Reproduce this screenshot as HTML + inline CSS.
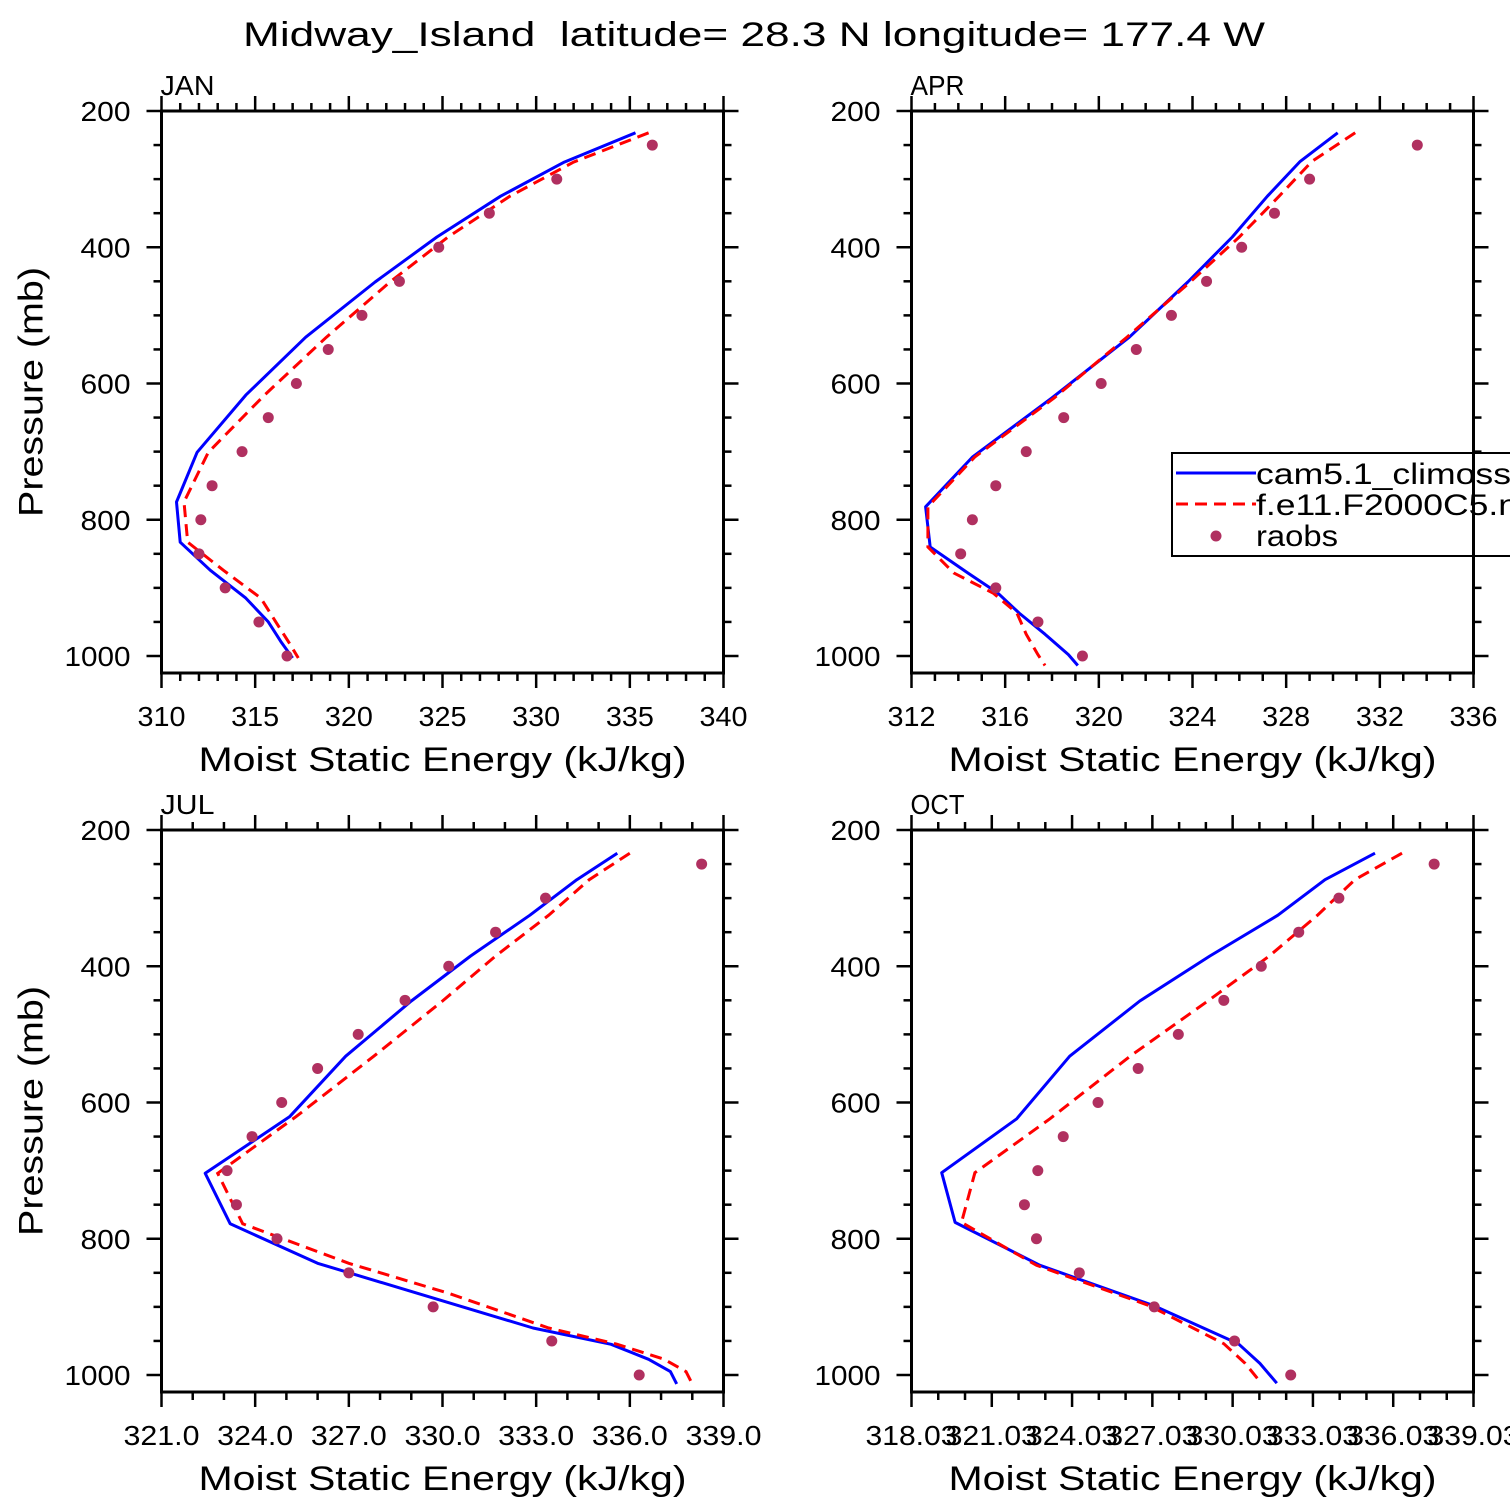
<!DOCTYPE html>
<html><head><meta charset="utf-8">
<style>
html,body{margin:0;padding:0;background:#fff;}
svg{display:block;font-family:"Liberation Sans",sans-serif;}
</style></head>
<body>
<svg id="chart" width="1510" height="1510" viewBox="0 0 1510 1510" xmlns="http://www.w3.org/2000/svg">
<rect width="1510" height="1510" fill="#fff"/>
<text x="243" y="46" font-size="34" textLength="1022" lengthAdjust="spacingAndGlyphs" fill="#000" xml:space="preserve">Midway_Island  latitude= 28.3 N longitude= 177.4 W</text>
</svg>
<script>
// ---- data ----
const obsLevels = [250,300,350,400,450,500,550,600,650,700,750,800,850,900,950,1000];

const janLevels = [232,275,325,385,451,532,617,701,774,833,874,915,950,980,1003];
const janCam = [335.3,331.5,328.1,324.7,321.4,317.7,314.5,311.9,310.8,311.0,312.6,314.5,315.7,316.4,317.0];
const janF11 = [336.0,332.0,328.6,325.3,322.2,318.8,315.5,312.5,311.2,311.4,313.3,315.3,316.1,316.8,317.3];
const janObs = [336.2,331.1,327.5,324.8,322.7,320.7,318.9,317.2,315.7,314.3,312.7,312.1,312.0,313.4,315.2,316.7];

const aprLevels = [232,274,325,385,451,532,621,708,781,840,878,908,937,968,998,1014];
const aprCam = [330.2,328.6,327.2,325.7,323.8,321.3,318.0,314.6,312.6,312.8,314.4,315.7,316.6,317.7,318.7,319.1];
const aprF11 = [330.95,329.1,327.7,326.0,323.9,321.2,318.1,314.7,312.7,312.7,313.8,315.5,316.5,316.9,317.4,317.7];
const aprObs = [333.6,329.0,327.5,326.1,324.6,323.1,321.6,320.1,318.5,316.9,315.6,314.6,314.1,315.6,317.4,319.3];

const julLevels = [234,273,325,385,451,532,621,704,778,836,880,931,955,977,995,1013];
const julCam = [335.6,334.3,332.8,330.9,329.0,326.9,325.1,322.4,323.2,326.0,329.2,332.9,335.4,336.6,337.3,337.5];
const julF11 = [336.0,334.7,333.4,331.7,330.0,327.8,325.3,322.8,323.6,327.0,330.2,333.4,335.6,337.1,337.8,338.0];
const julObs = [338.3,333.3,331.7,330.2,328.8,327.3,326.0,324.85,323.9,323.1,323.4,324.7,327.0,329.7,333.5,336.3];

const octLevels = [234,273,325,385,451,532,624,703,776,839,898,954,983,1012];
const octCam = [335.35,333.48,331.72,329.18,326.56,323.94,321.96,319.16,319.66,322.83,327.07,330.24,331.05,331.68];
const octF11 = [336.36,334.6,333.2,331.4,329.1,326.2,323.2,320.4,319.9,322.7,326.9,329.7,330.5,331.1];
const octObs = [337.56,334.0,332.5,331.1,329.7,328.0,326.5,325.0,323.7,322.75,322.25,322.7,324.3,327.1,330.1,332.2];

const pTicks = [200,400,600,800,1000];
const janXTicks = ["310","315","320","325","330","335","340"];
const aprXTicks = ["312","316","320","324","328","332","336"];
const julXTicks = ["321.0","324.0","327.0","330.0","333.0","336.0","339.0"];
const octXTicks = ["318.03","321.03","324.03","327.03","330.03","333.03","336.03","339.03"];
const legendLabels = ["cam5.1_climoss","f.e11.F2000C5.n","raobs"];

// ---- drawing ----
const NS = "http://www.w3.org/2000/svg";
const svg = document.getElementById("chart");
function mk(tag, attrs, parent){
  const e = document.createElementNS(NS, tag);
  for (const k in attrs) e.setAttribute(k, attrs[k]);
  (parent||svg).appendChild(e);
  return e;
}
function numLen(s){ let w = 0; for (const c of s) w += (c === ".") ? 12 : 16; return w; }

const panels = [
  {name:"jan", label:"JAN", x0:161.5, y0:111, xmin:310, xmax:340, major:5, minor:1, ticks:janXTicks, lev:janLevels, cam:janCam, f11:janF11, obs:janObs, ytitle:true},
  {name:"apr", label:"APR", x0:911.5, y0:111, xmin:312, xmax:336, major:4, minor:1, ticks:aprXTicks, lev:aprLevels, cam:aprCam, f11:aprF11, obs:aprObs, ytitle:false},
  {name:"jul", label:"JUL", x0:161.5, y0:830, xmin:321, xmax:339, major:3, minor:1, ticks:julXTicks, lev:julLevels, cam:julCam, f11:julF11, obs:julObs, ytitle:true},
  {name:"oct", label:"OCT", x0:911.5, y0:830, xmin:318.03, xmax:339.03, major:3, minor:1, ticks:octXTicks, lev:octLevels, cam:octCam, f11:octF11, obs:octObs, ytitle:false}
];
const W = 562, H = 562, PPM = 0.68125;

panels.forEach(function(pn){
  const g = mk("g", {});
  
  
  const sx = v => pn.x0 + (v - pn.xmin) / (pn.xmax - pn.xmin) * W;
  const sy = p => pn.y0 + (p - 200) * PPM;
  const L = pn.x0, R = pn.x0 + W, T = pn.y0, B = pn.y0 + H;

  const cid = "clip-" + pn.name;
  const cp = mk("clipPath", {id:cid}, g);
  mk("rect", {x:L, y:T, width:W, height:H}, cp);

  const lab = mk("text", {x:L-1, y:T-16, "font-size":28, textLength:54, lengthAdjust:"spacingAndGlyphs", fill:"#000"}, g);
  lab.textContent = pn.label;
  
  

  const tk = mk("g", {stroke:"#000", "stroke-width":2.5}, g);
  
  
  const nMinor = Math.round((pn.xmax - pn.xmin) / pn.minor);
  const per = Math.round(pn.major / pn.minor);
  for (let i = 0; i <= nMinor; i++){
    const x = sx(pn.xmin + i * pn.minor);
    const len = (i % per === 0) ? 15 : 8;
    mk("line", {x1:x, x2:x, y1:T, y2:T-len}, tk);
    mk("line", {x1:x, x2:x, y1:B, y2:B+len}, tk);
  }
  for (let p = 200; p <= 1025; p += 50){
    const y = sy(p);
    const len = (p % 200 === 0) ? 15 : 8;
    mk("line", {x1:L, x2:L-len, y1:y, y2:y}, tk);
    mk("line", {x1:R, x2:R+len, y1:y, y2:y}, tk);
  }
  const fr = mk("rect", {x:L, y:T, width:W, height:H, fill:"none", stroke:"#000", "stroke-width":3}, g);
  
  

  pTicks.forEach(function(p){
    const s = String(p);
    const t = mk("text", {x:L-31, y:sy(p)+10, "font-size":28, "text-anchor":"end", textLength:numLen(s)+2, lengthAdjust:"spacingAndGlyphs", fill:"#000"}, g);
    t.textContent = s;
    
    
  });
  pn.ticks.forEach(function(s){
    const t = mk("text", {x:sx(parseFloat(s)), y:B+53, "font-size":28, "text-anchor":"middle", textLength:numLen(s), lengthAdjust:"spacingAndGlyphs", fill:"#000"}, g);
    t.textContent = s;
    
    
  });
  const xt = mk("text", {x:L+W/2, y:B+98, "font-size":34, "text-anchor":"middle", textLength:488, lengthAdjust:"spacingAndGlyphs", fill:"#000"}, g);
  xt.textContent = "Moist Static Energy (kJ/kg)";
  
  
  if (pn.ytitle){
    const yt = mk("text", {x:0, y:0, "font-size":34, "text-anchor":"middle", textLength:250, lengthAdjust:"spacingAndGlyphs", fill:"#000",
      transform:"translate(" + (L-119) + "," + (T+281) + ") rotate(-90)"}, g);
    yt.textContent = "Pressure (mb)";
    
    
  }

  const sg = mk("g", {"clip-path":"url(#" + cid + ")"}, g);
  const camPts = pn.cam.map((v,i) => sx(v).toFixed(1) + "," + sy(pn.lev[i]).toFixed(1)).join(" ");
  const f11Pts = pn.f11.map((v,i) => sx(v).toFixed(1) + "," + sy(pn.lev[i]).toFixed(1)).join(" ");
  const l1 = mk("polyline", {points:camPts, fill:"none", stroke:"#0000ff", "stroke-width":3, "stroke-linejoin":"round"}, sg);
  
  
  const l2 = mk("polyline", {points:f11Pts, fill:"none", stroke:"#ff0000", "stroke-width":3, "stroke-dasharray":"12,7"}, sg);
  
  
  pn.obs.forEach(function(v,i){
    const c = mk("circle", {cx:sx(v), cy:sy(obsLevels[i]), r:5.5, fill:"#b03060"}, sg);
    
    
  });
});

// legend
const lg = mk("g", {});


mk("rect", {x:1172, y:453, width:345, height:103, fill:"#fff", stroke:"#000", "stroke-width":2}, lg);
const e1 = mk("line", {x1:1176, x2:1256, y1:473, y2:473, stroke:"#0000ff", "stroke-width":3}, lg);


const e2 = mk("line", {x1:1176, x2:1256, y1:504, y2:504, stroke:"#ff0000", "stroke-width":3, "stroke-dasharray":"12,7"}, lg);


const e3 = mk("circle", {cx:1216, cy:536, r:5.5, fill:"#b03060"}, lg);


const legLens = [255, 262, 82];
[484, 515, 546].forEach(function(y, i){
  const t = mk("text", {x:1256, y:y, "font-size":30, textLength:legLens[i], lengthAdjust:"spacingAndGlyphs", fill:"#000"}, lg);
  t.textContent = legendLabels[i];
  
  
});
mk("line", {x1:1473.5, x2:1473.5, y1:440, y2:570, stroke:"#000", "stroke-width":3}, lg);
</script>
</body></html>
